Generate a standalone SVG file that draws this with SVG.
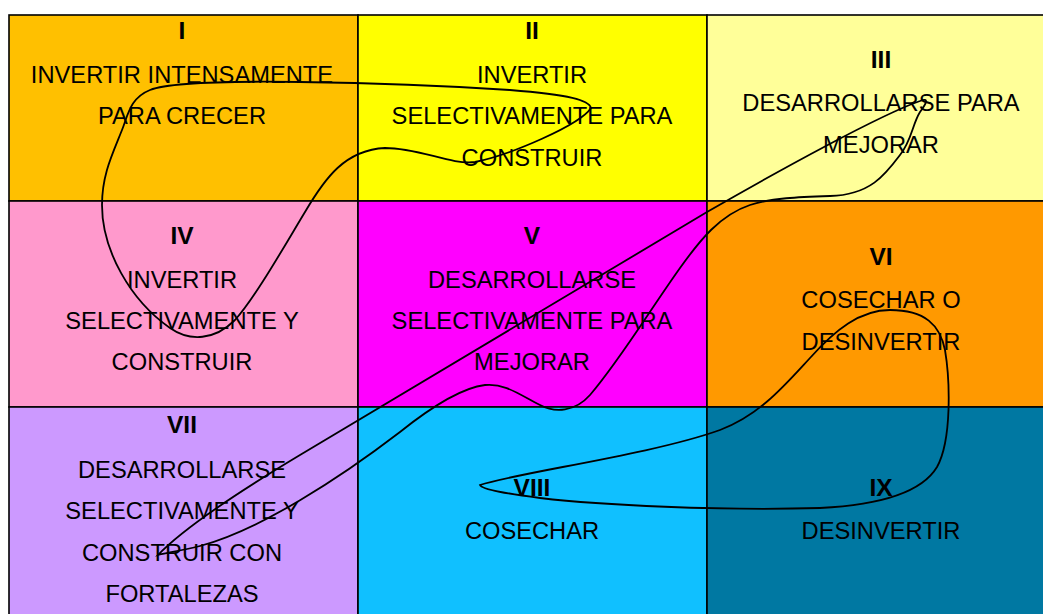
<svg xmlns="http://www.w3.org/2000/svg" width="1043" height="614" viewBox="0 0 1043 614">
<style>
.cell{stroke:#000;stroke-width:1.6}
text{font-family:"Liberation Sans",Arial,sans-serif;fill:#000;text-anchor:middle}
.t{font-size:24.5px;font-weight:bold}
.l{font-size:23.7px}
.curve{fill:none;stroke:#000;stroke-width:1.8}
</style>
<rect width="1043" height="614" fill="#fff"/>
<g id="cell-I">
<rect class="cell" x="9" y="15" width="349" height="186" fill="#FFC000"/>
<text class="t" x="182" y="39">I</text>
<text class="l" x="182" y="83">INVERTIR INTENSAMENTE</text>
<text class="l" x="182" y="124">PARA CRECER</text>
</g>
<g id="cell-II">
<rect class="cell" x="358" y="15" width="349" height="186" fill="#FFFF00"/>
<text class="t" x="532" y="39">II</text>
<text class="l" x="532" y="83">INVERTIR</text>
<text class="l" x="532" y="124">SELECTIVAMENTE PARA</text>
<text class="l" x="532" y="166">CONSTRUIR</text>
</g>
<g id="cell-III">
<rect class="cell" x="707" y="15" width="360" height="186" fill="#FFFF99"/>
<text class="t" x="881" y="68">III</text>
<text class="l" x="881" y="111">DESARROLLARSE PARA</text>
<text class="l" x="881" y="153">MEJORAR</text>
</g>
<g id="cell-IV">
<rect class="cell" x="9" y="201" width="349" height="206" fill="#FF99CC"/>
<text class="t" x="182" y="244">IV</text>
<text class="l" x="182" y="288">INVERTIR</text>
<text class="l" x="182" y="329">SELECTIVAMENTE Y</text>
<text class="l" x="182" y="370">CONSTRUIR</text>
</g>
<g id="cell-V">
<rect class="cell" x="358" y="201" width="349" height="206" fill="#FF00FF"/>
<text class="t" x="532" y="244">V</text>
<text class="l" x="532" y="288">DESARROLLARSE</text>
<text class="l" x="532" y="329">SELECTIVAMENTE PARA</text>
<text class="l" x="532" y="370">MEJORAR</text>
</g>
<g id="cell-VI">
<rect class="cell" x="707" y="201" width="360" height="206" fill="#FF9900"/>
<text class="t" x="881" y="265">VI</text>
<text class="l" x="881" y="308">COSECHAR O</text>
<text class="l" x="881" y="350">DESINVERTIR</text>
</g>
<g id="cell-VII">
<rect class="cell" x="9" y="407" width="349" height="220" fill="#CC99FF"/>
<text class="t" x="182" y="433">VII</text>
<text class="l" x="182" y="478">DESARROLLARSE</text>
<text class="l" x="182" y="519">SELECTIVAMENTE Y</text>
<text class="l" x="182" y="561">CONSTRUIR CON</text>
<text class="l" x="182" y="602">FORTALEZAS</text>
</g>
<g id="cell-VIII">
<rect class="cell" x="358" y="407" width="349" height="220" fill="#10C0FF"/>
<text class="t" x="532" y="496">VIII</text>
<text class="l" x="532" y="539">COSECHAR</text>
</g>
<g id="cell-IX">
<rect class="cell" x="707" y="407" width="360" height="220" fill="#0078A2"/>
<text class="t" x="881" y="496">IX</text>
<text class="l" x="881" y="539">DESINVERTIR</text>
</g>
<g id="connectors">
<path class="curve" d="M591,108 C589,100 570,95 510,90 C450,86 380,83 300,82 C230,81 170,82 150,90 C130,98 128,115 122,130 C112,155 102,175 102,205 C102,250 130,300 170,328 C190,342 215,340 235,320 C255,298 285,245 305,212 C325,178 345,150 385,148 C420,148 450,165 475,162 C510,155 580,125 591,108 Z"/>
<path class="curve" d="M158,555 C180,532 230,497 300,455 L707,212 C780,170 880,115 920,101 C930,97 926,104 920,112 C912,125 912,140 900,155 C885,175 870,195 830,196 C800,197 770,198 750,205 C720,215 700,240 680,268 C650,310 620,360 590,395 C575,412 555,413 540,405 C520,395 505,383 485,385 C460,388 430,408 400,432 C340,478 260,530 200,546 C180,551 165,553 158,555 Z"/>
<path class="curve" d="M480,485 C520,472 650,455 720,430 C760,415 785,385 810,358 C835,330 860,310 890,310 C925,310 940,325 945,350 C950,380 952,440 937,467 C922,492 880,505 820,508 C720,511 600,505 540,498 C510,494 482,490 480,485 Z"/>
</g>
</svg>
